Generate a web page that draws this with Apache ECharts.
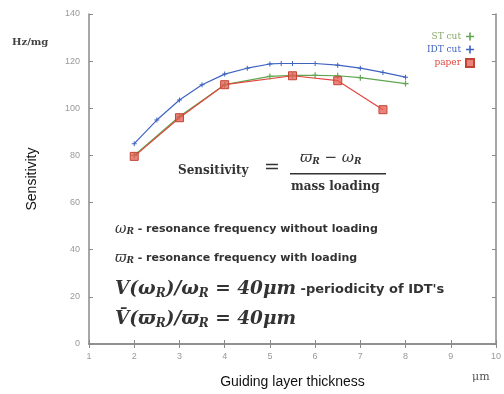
<!DOCTYPE html>
<html><head><meta charset="utf-8">
<script src="https://cdn.jsdelivr.net/npm/echarts@6/dist/echarts.min.js"></script>
<style>html,body{margin:0;padding:0;background:#fff}#c{width:504px;height:394px}</style>
</head><body><div id="c"></div>
<script>
const xTicks = [1,2,3,4,5,6,7,8,9,10];
const yTicks = [0,20,40,60,80,100,120,140];
const stX = [2,3,4,5,5.5,6,6.5,7,8];
const stY = [80,96.5,110,113.5,114,114,113.8,113,110.5];
const idtX = [2,2.5,3,3.5,4,4.5,5,5.25,5.5,6,6.5,7,7.5,8];
const idtY = [85,95,103.5,110,114.5,117,118.8,119,119,119,118.3,117,115.2,113.2];
const paperX = [2,3,4,5.5,6.5,7.5];
const paperY = [79.6,96,110,113.8,111.7,99.4];
const seriesNames = ['ST cut','IDT cut','paper'];
const colors = ['#5fa64f','#3f63c0','#e2463f'];

const zip = (a,b)=>a.map((v,i)=>[v,b[i]]);
const plus = 'path://M4,0H6V4H10V6H6V10H4V6H0V4H4Z';
const chart = echarts.init(document.getElementById('c'));
const axisCol = '#8a8a8a';
const sub = {fontSize:9, fontStyle:'italic', fontWeight:'bold', fontFamily:'DejaVu Serif', padding:[6,0,0,0], fill:'#333'};
const subBig = {fontSize:12, fontStyle:'italic', fontWeight:'bold', fontFamily:'DejaVu Serif', padding:[8,0,0,0], fill:'#333'};
const mathBig = {fontSize:18.5,fontStyle:'italic',fontWeight:'bold',fontFamily:'DejaVu Serif',fill:'#333'};
chart.setOption({
  animation:false,
  grid:{left:89, top:14, width:410, height:331},
  xAxis:[{type:'value', min:1, max:10, interval:1,
      axisLine:{lineStyle:{color:axisCol,width:1.5}}, axisTick:{inside:true,length:4,lineStyle:{color:axisCol}},
      splitLine:{show:false}, axisLabel:{color:'#999',fontSize:9,margin:8},
      name:'Guiding layer thickness', nameLocation:'middle', nameGap:31,
      nameTextStyle:{color:'#111',fontSize:14,fontFamily:'Liberation Sans'}},
    {type:'value', position:'top', min:1, max:10, interval:1,
      axisLine:{lineStyle:{color:axisCol,width:1.5}}, axisTick:{inside:true,length:4,lineStyle:{color:axisCol}},
      axisLabel:{show:false}, splitLine:{show:false}}],
  yAxis:[{type:'value', min:0, max:140, interval:20,
      axisLine:{lineStyle:{color:axisCol,width:1.5}}, axisTick:{inside:true,length:4,lineStyle:{color:axisCol}},
      splitLine:{show:false}, axisLabel:{color:'#999',fontSize:9,margin:9},
      name:'Sensitivity', nameLocation:'middle', nameGap:50, nameRotate:90,
      nameTextStyle:{color:'#111',fontSize:14,fontFamily:'Liberation Sans'}},
    {type:'value', position:'right', min:0, max:140, interval:20,
      axisLine:{lineStyle:{color:axisCol,width:1.5}}, axisTick:{inside:true,length:4,lineStyle:{color:axisCol}},
      axisLabel:{show:false}, splitLine:{show:false}}],
  legend:{orient:'vertical', right:24, top:27, align:'right', itemGap:4, itemWidth:8, itemHeight:8,
    textStyle:{fontSize:9,fontFamily:'DejaVu Serif'},
    data:[
      {name:seriesNames[0], icon:plus, textStyle:{color:'#8aa86a'}},
      {name:seriesNames[1], icon:plus, textStyle:{color:colors[1]}},
      {name:seriesNames[2], icon:'rect', textStyle:{color:colors[2]}}]},
  series:[
    {name:seriesNames[0], type:'line', data:zip(stX,stY), symbol:plus, symbolSize:6,
      lineStyle:{color:colors[0],width:1.2}, itemStyle:{color:colors[0]}},
    {name:seriesNames[1], type:'line', data:zip(idtX,idtY), symbol:plus, symbolSize:5,
      lineStyle:{color:colors[1],width:1.2}, itemStyle:{color:colors[1]}},
    {name:seriesNames[2], type:'line', data:zip(paperX,paperY), symbol:'rect', symbolSize:8,
      lineStyle:{color:colors[2],width:1.2}, itemStyle:{color:'rgba(230,90,80,0.75)',borderColor:'#c04535',borderWidth:1}}
  ],
  graphic:[
    {type:'text', left:12, top:37, style:{text:'Hz/mg', fontSize:10, fontWeight:'bold', fontFamily:'DejaVu Serif', fill:'#444'}},
    {type:'text', left:472, top:372, style:{text:'μm', fontSize:11, fontFamily:'DejaVu Serif', fill:'#555'}},
    {type:'text', left:178, top:165, style:{text:'Sensitivity', fontSize:12, fontWeight:'bold', fontFamily:'DejaVu Serif', fill:'#333'}},
    {type:'text', left:264, top:159, style:{text:'=', fontSize:19, fontFamily:'DejaVu Serif', fill:'#333'}},
    {type:'text', left:300, top:151, style:{text:'ϖ{s|R} − ω{s|R}', fontSize:15, fontStyle:'italic', fontFamily:'DejaVu Serif', fill:'#333', rich:{s:sub}}},
    {type:'rect', shape:{x:290, y:173, width:96, height:1.5}, style:{fill:'#333'}},
    {type:'text', left:291, top:181, style:{text:'mass loading', fontSize:12, fontWeight:'bold', fontFamily:'DejaVu Serif', fill:'#333'}},
    {type:'text', left:115, top:222, style:{text:'{m|ω}{s|R} - resonance frequency without loading', fontSize:11, fontWeight:'bold', fontFamily:'DejaVu Sans', fill:'#333', rich:{m:{fontSize:14,fontStyle:'italic',fontFamily:'DejaVu Serif',fill:'#333'}, s:sub}}},
    {type:'text', left:115, top:251, style:{text:'{m|ϖ}{s|R} - resonance frequency with loading', fontSize:11, fontWeight:'bold', fontFamily:'DejaVu Sans', fill:'#333', rich:{m:{fontSize:14,fontStyle:'italic',fontFamily:'DejaVu Serif',fill:'#333'}, s:sub}}},
    {type:'text', left:115, top:280, style:{text:'{m|V(ω}{s|R}{m|)/ω}{s|R}{m| = 40μm} -periodicity of IDT\'s', fontSize:13, fontWeight:'bold', fontFamily:'DejaVu Sans', fill:'#333', rich:{m:mathBig, s:subBig}}},
    {type:'text', left:115, top:310, style:{text:'{m|V̄(ϖ}{s|R}{m|)/ϖ}{s|R}{m| = 40μm}', fontSize:13, fontWeight:'bold', fontFamily:'DejaVu Sans', fill:'#333', rich:{m:mathBig, s:subBig}}}
  ]
});
</script></body></html>
